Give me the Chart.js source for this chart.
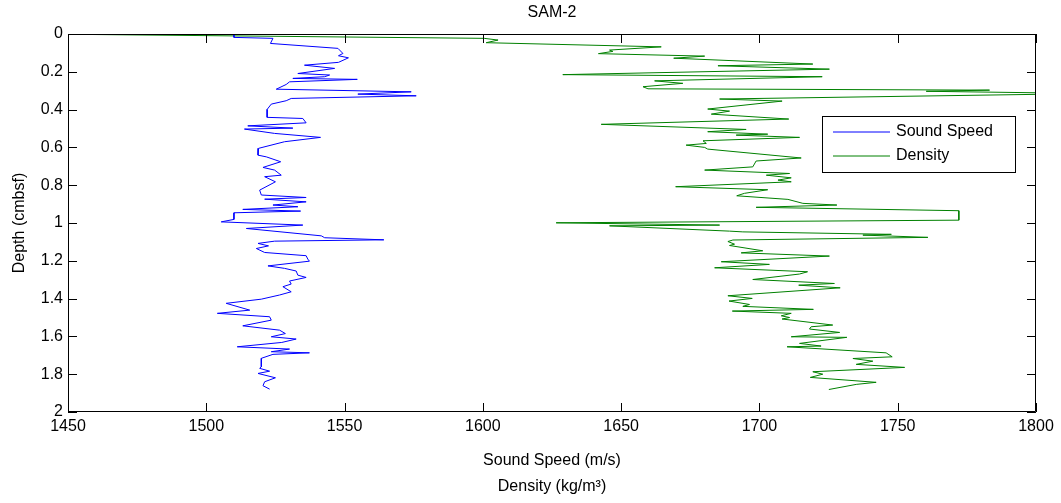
<!DOCTYPE html>
<html>
<head>
<meta charset="utf-8">
<script src="https://cdn.jsdelivr.net/npm/chart.js@4.4.1/dist/chart.umd.min.js"></script>
<style>
  html, body { margin: 0; padding: 0; background: #fff; }
  .chart-container { position: relative; width: 1061px; height: 503px; }
</style>
</head>
<body>
<div class="chart-container"><canvas id="myChart" width="1061" height="503"></canvas></div>
<script>
// --- dados ---
const chartTitle = 'SAM-2';
const seriesNames = ['Sound Speed', 'Density'];
const xTitleLines = ['Sound Speed (m/s)', 'Density (kg/m\u00B3)'];
const yTitle = 'Depth (cmbsf)';

const soundDepth = [0, 0.018, 0.023, 0.05, 0.076, 0.103, 0.115, 0.126, 0.15, 0.165, 0.182, 0.209, 0.217, 0.226, 0.235, 0.24,
  0.253, 0.267, 0.292, 0.306, 0.318, 0.327, 0.341, 0.353, 0.371, 0.399, 0.441, 0.447, 0.47, 0.486, 0.498, 0.503,
  0.526, 0.547, 0.57, 0.605, 0.641, 0.65, 0.676, 0.706, 0.72, 0.747, 0.755, 0.782, 0.826, 0.852, 0.865, 0.874,
  0.888, 0.905, 0.914, 0.928, 0.937, 0.946, 0.981, 0.994, 1.011, 1.029, 1.068, 1.078, 1.089, 1.096, 1.108, 1.121,
  1.135, 1.156, 1.173, 1.191, 1.202, 1.227, 1.24, 1.254, 1.276, 1.288, 1.307, 1.323, 1.337, 1.364, 1.381, 1.403,
  1.425, 1.461, 1.478, 1.496, 1.514, 1.544, 1.567, 1.585, 1.602, 1.614, 1.632, 1.655, 1.667, 1.681, 1.687, 1.695,
  1.716, 1.761, 1.769, 1.784, 1.796, 1.819, 1.84, 1.861, 1.879];
const soundSpeed = [1510, 1510, 1524.1, 1523.2, 1547.6, 1549.4, 1547.8, 1551.4, 1547.8, 1535.5, 1546.4, 1533.1, 1544.6, 1542.8, 1531.3, 1554.6,
  1530.1, 1528.9, 1525.3, 1574.1, 1554.8, 1575.9, 1530.7, 1528.9, 1523.5, 1522, 1522, 1534.9, 1536.1, 1515, 1531.3, 1513.8,
  1524.7, 1541.3, 1528.3, 1518.9, 1518.7, 1521.7, 1526.9, 1520.5, 1524.7, 1527.1, 1521.1, 1525, 1519.3, 1519.9, 1536.1, 1521.1,
  1536.1, 1524.1, 1533.1, 1513.2, 1534.1, 1510, 1510, 1505.4, 1534.9, 1514.5, 1541.6, 1542.8, 1564.2, 1524.7, 1518.7, 1522.5,
  1518.1, 1521.1, 1536.1, 1536.7, 1537.3, 1522.3, 1528.3, 1532.5, 1533.1, 1536.1, 1530.1, 1530.7, 1527.7, 1530.7, 1526.5, 1519.9,
  1507.2, 1515.7, 1504, 1522.9, 1523.5, 1513.2, 1526.5, 1528.6, 1523.5, 1532.5, 1527.3, 1511.2, 1530.1, 1523.5, 1537.3, 1524.1,
  1519.9, 1519.9, 1519.3, 1522.9, 1518.7, 1525, 1521.1, 1520.5, 1522.9];

const densityDepth = [0, 0.023, 0.032, 0.046, 0.068, 0.085, 0.092, 0.104, 0.117, 0.128, 0.159, 0.168, 0.186, 0.215, 0.226, 0.248,
  0.261, 0.279, 0.29, 0.297, 0.303, 0.315, 0.344, 0.355, 0.397, 0.408, 0.424, 0.45, 0.478, 0.505, 0.517, 0.53,
  0.535, 0.547, 0.565, 0.579, 0.588, 0.6, 0.609, 0.656, 0.672, 0.703, 0.72, 0.738, 0.747, 0.761, 0.773, 0.782,
  0.808, 0.824, 0.843, 0.856, 0.875, 0.896, 0.905, 0.917, 0.935, 0.985, 0.999, 1.011, 1.015, 1.043, 1.047, 1.06,
  1.064, 1.076, 1.09, 1.098, 1.112, 1.119, 1.147, 1.158, 1.175, 1.205, 1.219, 1.237, 1.258, 1.27, 1.299, 1.32,
  1.329, 1.343, 1.385, 1.399, 1.413, 1.431, 1.441, 1.457, 1.466, 1.478, 1.491, 1.5, 1.508, 1.54, 1.549, 1.561,
  1.579, 1.602, 1.605, 1.637, 1.651, 1.655, 1.687, 1.708, 1.717, 1.731, 1.748, 1.764, 1.787, 1.8, 1.817, 1.843,
  1.854, 1.881];
const densityValue = [1440, 1600.5, 1605.5, 1601.2, 1664.5, 1645.8, 1647, 1641.8, 1680.2, 1669, 1719.3, 1685, 1725.3, 1628.9, 1722.7, 1662.1,
  1672.3, 1657.9, 1659.7, 1783.2, 1760.3, 1820, 1685.6, 1708.2, 1681.3, 1689.2, 1682.6, 1710.6, 1642.8, 1695.2, 1681.3, 1703,
  1691.6, 1714.5, 1679.6, 1680.8, 1673.5, 1680.2, 1681.3, 1715.1, 1698.8, 1697.6, 1680.2, 1710.9, 1702.5, 1711.5, 1706.7, 1711.5,
  1669.7, 1703, 1694.6, 1691.8, 1710.3, 1715.7, 1728, 1698.8, 1772.1, 1772.1, 1626.5, 1685.6, 1645.8, 1689.2, 1694, 1747.7,
  1737.4, 1760.9, 1690.4, 1688.6, 1691, 1689.2, 1701.2, 1693.4, 1725.3, 1686.2, 1703.6, 1683.8, 1717.4, 1714.5, 1697.6, 1727.1,
  1714.2, 1729.2, 1688.6, 1697.4, 1689, 1696.4, 1694, 1719.5, 1690.2, 1711.5, 1707.9, 1710.9, 1708.2, 1726.5, 1718.7, 1718.1,
  1729, 1711.5, 1731.6, 1714.5, 1722.3, 1710, 1745.8, 1748, 1733.8, 1741, 1735, 1752.5, 1719.3, 1722.9, 1718.4, 1742.2,
  1735, 1725.1];

const xMin = 1450, xMax = 1800, xStep = 50;
const yMin = 0, yMax = 2, yStep = 0.2;

const FONT = '"Liberation Sans", Arial, sans-serif';
const colors = ['#0000ff', '#008000'];

function toPoints(xs, ys) {
  return xs.map((v, i) => ({ x: v, y: ys[i] }));
}

// caixa estilo MATLAB: borda, ticks para dentro, títulos e legenda
const matlabFrame = {
  id: 'matlabFrame',
  afterDraw(chart) {
    const { ctx, chartArea: a, scales } = chart;
    const tl = 9;
    ctx.save();
    ctx.strokeStyle = '#000';
    ctx.lineWidth = 1;
    ctx.beginPath();
    ctx.rect(a.left + 0.5, a.top + 0.5, a.right - a.left - 1, a.bottom - a.top - 1);
    ctx.stroke();

    ctx.beginPath();
    scales.x.ticks.forEach(t => {
      const px = Math.round(scales.x.getPixelForValue(t.value)) + 0.5;
      ctx.moveTo(px, a.bottom); ctx.lineTo(px, a.bottom - tl);
      ctx.moveTo(px, a.top); ctx.lineTo(px, a.top + tl);
    });
    scales.y.ticks.forEach(t => {
      const py = Math.round(scales.y.getPixelForValue(t.value)) + 0.5;
      ctx.moveTo(a.left, py); ctx.lineTo(a.left + tl, py);
      ctx.moveTo(a.right, py); ctx.lineTo(a.right - tl, py);
    });
    ctx.stroke();

    // títulos
    ctx.fillStyle = '#000';
    ctx.font = '16px ' + FONT;
    ctx.textAlign = 'center';
    ctx.textBaseline = 'middle';
    const cx = (a.left + a.right) / 2;
    ctx.fillText(chartTitle, cx, 13);
    ctx.fillText(xTitleLines[0], cx, 461);
    ctx.fillText(xTitleLines[1], cx, 487);
    ctx.save();
    ctx.translate(20, (a.top + a.bottom) / 2);
    ctx.rotate(-Math.PI / 2);
    ctx.fillText(yTitle, 0, 0);
    ctx.restore();

    // legenda
    const lx = 822.5, ly = 116.5, lw = 193, lh = 56;
    ctx.fillStyle = '#fff';
    ctx.fillRect(lx, ly, lw, lh);
    ctx.strokeStyle = '#000';
    ctx.strokeRect(lx, ly, lw, lh);
    ctx.textAlign = 'left';
    seriesNames.forEach((name, i) => {
      const yy = 132 + i * 24;
      ctx.strokeStyle = colors[i];
      ctx.beginPath();
      ctx.moveTo(833, yy); ctx.lineTo(890, yy);
      ctx.stroke();
      ctx.fillStyle = '#000';
      ctx.fillText(name, 896, yy);
    });
    ctx.restore();
  }
};

const ctx = document.getElementById('myChart').getContext('2d');
new Chart(ctx, {
  type: 'scatter',
  data: {
    datasets: [
      {
        label: seriesNames[0],
        data: toPoints(soundSpeed, soundDepth),
        borderColor: colors[0],
        backgroundColor: colors[0],
        borderWidth: 1,
        showLine: true,
        pointRadius: 0,
        tension: 0
      },
      {
        label: seriesNames[1],
        data: toPoints(densityValue, densityDepth),
        borderColor: colors[1],
        backgroundColor: colors[1],
        borderWidth: 1,
        showLine: true,
        pointRadius: 0,
        tension: 0
      }
    ]
  },
  options: {
    responsive: false,
    animation: false,
    devicePixelRatio: 1,
    layout: { padding: { top: 34, right: 25, left: 0, bottom: 0 } },
    plugins: {
      legend: { display: false },
      title: { display: false },
      tooltip: { enabled: false }
    },
    scales: {
      x: {
        type: 'linear',
        min: xMin, max: xMax,
        ticks: { stepSize: xStep, color: '#000', font: { family: FONT, size: 16 }, padding: 5, maxRotation: 0,
          autoSkip: false, callback: v => String(v) },
        grid: { display: false, drawTicks: false, tickLength: 0 },
        border: { display: false },
        afterFit(scale) { scale.height = 91; }
      },
      y: {
        type: 'linear',
        reverse: true,
        min: yMin, max: yMax,
        ticks: { stepSize: yStep, color: '#000', font: { family: FONT, size: 16 }, padding: 5, autoSkip: false,
          callback: v => String(Math.round(v * 10) / 10) },
        grid: { display: false, drawTicks: false, tickLength: 0 },
        border: { display: false },
        afterFit(scale) { scale.width = 68; }
      }
    }
  },
  plugins: [matlabFrame]
});
</script>
</body>
</html>
